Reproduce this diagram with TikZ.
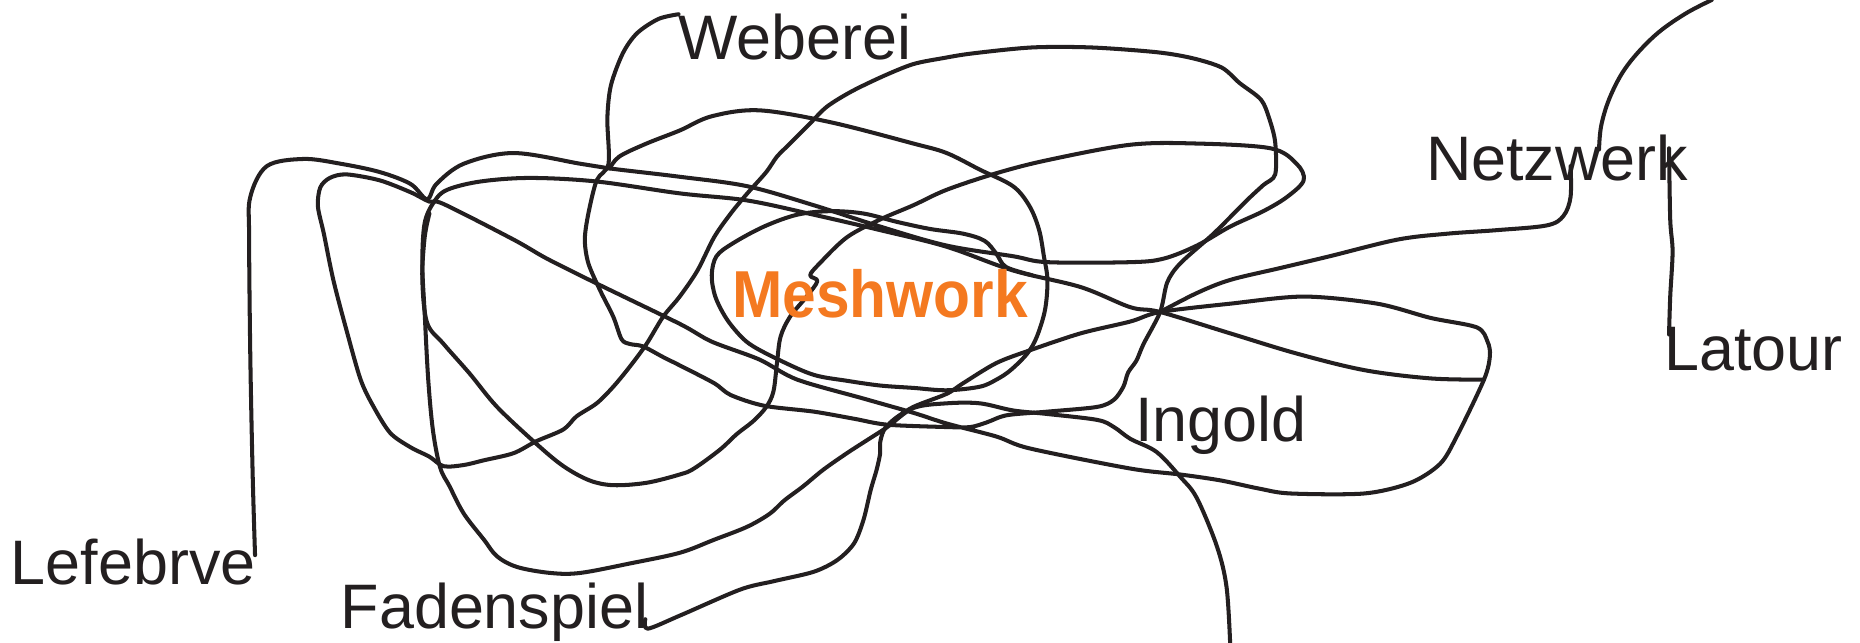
\documentclass[tikz,border=0pt]{standalone}
\usepackage{fontspec}
\setmainfont{Liberation Sans}
\newfontfamily\meshfont[FakeStretch=0.91]{Liberation Sans}
\definecolor{ink}{RGB}{35,31,32}
\definecolor{meshorange}{RGB}{244,121,32}
\begin{document}
\begin{tikzpicture}[x=1pt,y=-1pt,
  thread/.style={draw=ink, line width=3.4pt, line cap=round, line join=round},
  namelabel/.style={font=\fontsize{53}{60}\selectfont, text=ink, inner sep=0pt, anchor=base west},
  centrelabel/.style={font=\meshfont\bfseries\fontsize{56}{62}\selectfont, text=meshorange, inner sep=0pt, anchor=base west}]
\useasboundingbox (0,0) rectangle (1568,542);

% Lefebrve thread: outer left loop, upper band, small right loop, lower left arc
\draw[thread] plot[smooth, tension=0.55] coordinates {
  (215,468) (213,400) (211,300) (210,200) (211,166) (225,140) (256,134) (287,138)
  (320,145) (346,155) (360,168) (368,155) (391,138) (433,129) (489,138) (514,142)
  (573,149) (630,157) (686,173) (742,191) (798,207) (854,216) (883,221) (953,221)
  (981,218) (1009,207) (1037,191) (1065,178) (1085,166) (1099,152) (1093,138)
  (1071,125) (1009,121) (953,122) (883,135) (840,146) (798,160) (770,173) (742,185)
  (714,200) (691,222) (683,232) (689,237) (680,250) (666,267) (658,284) (655,306)
  (652,330) (646,343) (635,355) (621,366) (607,379) (585,395) (573,400) (545,407)
  (517,409) (497,405) (475,393) (452,374) (419,343) (396,315) (374,290) (360,272)
  (356,235) (358,200) (362,180)};

% Long thread: lower band from the right loop, down the left side and on to the bottom
\draw[thread] plot[smooth, tension=0.55] coordinates {
  (1251,320) (1206,319) (1150,312) (1093,298) (1037,281) (978,263) (953,259)
  (911,242) (854,228) (798,208) (742,194) (686,181) (630,169) (573,163) (503,153)
  (447,150) (405,153) (377,160) (366,170) (358,188) (356,222) (358,264) (361,320)
  (365,363) (371,394) (379,410) (391,433) (408,455) (419,469) (436,478) (464,483)
  (489,483) (531,475) (573,466) (602,455) (630,444) (649,433) (661,422) (677,410)
  (694,396) (714,382) (731,371) (748,360) (770,344) (798,340) (826,340) (854,346)
  (883,349) (925,354) (939,360) (953,370) (975,381) (995,402) (1009,420) (1026,461)
  (1034,495) (1037,542)};

% Weberei thread: down, across, top loop, inner left loop, long diagonal, Fadenspiel
\draw[thread] plot[smooth, tension=0.5] coordinates {
  (572,12) (555,16) (537,28) (525,45) (515,72) (512,100) (513,138) (503,152)
  (496,180) (493,202) (496,222) (506,245) (517,267) (524,286) (531,290) (542,292)
  (559,301) (573,308) (602,323) (616,333) (644,342) (686,347) (720,353) (748,358)
  (798,360) (818,360) (832,356) (849,350) (883,347) (925,343) (939,337) (947,326)
  (951,314) (958,304) (964,290) (978,263) (984,238) (995,222) (1023,197) (1051,169)
  (1065,156) (1075,147) (1075,120) (1070,100) (1063,84) (1045,70) (1030,57) (1005,49)
  (975,44) (920,40) (870,40) (820,45) (795,49) (770,54) (745,64) (718,77) (697,90)
  (682,105) (666,121) (655,132) (646,145) (630,163) (616,180) (602,200) (588,228)
  (573,250) (559,267) (545,290) (531,309) (517,326) (503,340) (486,351) (475,362)
  (452,372) (433,382) (408,388) (391,392) (374,393) (362,385) (346,377) (329,365)
  (315,343) (304,320) (292,278) (281,236) (273,197) (268,174) (270,158) (278,150)
  (292,147) (320,152) (346,162) (362,170) (374,172) (433,202) (461,218) (503,239)
  (573,273) (600,288) (640,303) (672,320) (728,336) (770,348) (798,357) (840,368)
  (868,378) (953,395) (995,400) (1029,405) (1062,412) (1088,416) (1150,416)
  (1189,407) (1214,391) (1228,368) (1251,320) (1256,300) (1254,288) (1245,276)
  (1206,268) (1161,256) (1099,250) (1037,256) (978,263) (953,271) (911,281)
  (869,295) (840,306) (812,323) (798,332) (770,343) (753,354) (745,363) (742,373)
  (742,382) (739,396) (734,413) (728,438) (720,458) (706,472) (686,482) (652,490)
  (624,497) (573,519) (546,530) (544,522)};

% Thread circling the centre label
\draw[thread] plot[smooth, tension=0.55] coordinates {
  (514,142) (522,132) (545,121) (573,110) (600,98) (640,93) (700,103) (770,121)
  (798,129) (826,143) (854,157) (868,174) (876,194) (880,216) (883,236) (881,261)
  (874,284) (866,298) (852,312) (840,320) (826,326) (798,329) (770,327) (742,325)
  (714,321) (686,316) (658,304) (635,292) (624,283) (612,268) (603,250) (600,232)
  (604,216) (618,205) (644,191) (672,181) (700,178) (728,180) (756,187) (784,193)
  (812,197) (830,203) (840,214) (848,225) (870,232)};

% Netzwerk thread
\draw[thread] plot[smooth, tension=0.55] coordinates {
  (978,263) (1009,247) (1037,236) (1079,226) (1121,216) (1178,202) (1220,197)
  (1262,194) (1304,190) (1318,182) (1324,166) (1324,140)};

% Arc from the top edge into Netzwerk
\draw[thread] plot[smooth, tension=0.6] coordinates {
  (1443,0) (1420,12) (1395,30) (1372,55) (1358,80) (1350,105) (1348,126)};

% Drop from Netzwerk to Latour
\draw[thread] plot[smooth, tension=0.5] coordinates {
  (1407,125) (1408,185) (1410,212) (1408,250) (1407,282)};

% Labels
\node[namelabel]   (weberei)    at (572,50)  {Weberei};
\node[namelabel]   (netzwerk)   at (1202,152) {Netzwerk};
\node[namelabel]   (latour)     at (1403,312) {Latour};
\node[namelabel]   (ingold)     at (957,372) {Ingold};
\node[namelabel]   (lefebrve)   at (9,493)   {Lefebrve};
\node[namelabel]   (fadenspiel) at (287,530) {Fadenspiel};
\node[centrelabel] (meshwork)   at (617,268) {Meshwork};
\end{tikzpicture}
\end{document}
